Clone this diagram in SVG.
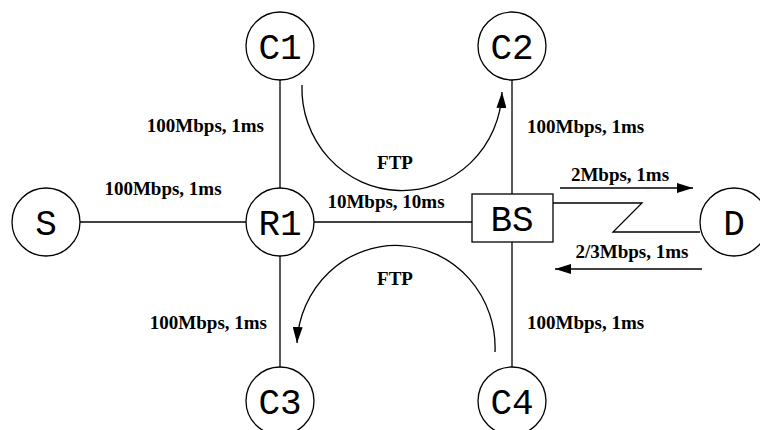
<svg xmlns="http://www.w3.org/2000/svg" width="760" height="430" viewBox="0 0 760 430">
<style>
.n{fill:#fff;stroke:#000;stroke-width:1.3}
.nl{font-family:"Liberation Mono","DejaVu Sans Mono",monospace;font-size:36px;text-anchor:middle;fill:#000}
.e{fill:none;stroke:#000;stroke-width:1.3}
.lb{font-family:"Liberation Serif","Times New Roman",serif;font-size:19px;font-weight:bold;fill:#000}
</style>
<defs>
<marker id="ah2" viewBox="0 0 10 10" refX="10" refY="5" markerWidth="16" markerHeight="10" markerUnits="userSpaceOnUse" orient="auto" preserveAspectRatio="none">
<path d="M0,0 L10,5 L0,10 z" fill="#000"/>
</marker>
</defs>
<g id="connectors">
<line class="e" x1="80" y1="222" x2="246" y2="222"/>
<line class="e" x1="314" y1="222" x2="472" y2="222"/>
<line class="e" x1="280" y1="80" x2="280" y2="188"/>
<line class="e" x1="280" y1="256" x2="280" y2="367"/>
<line class="e" x1="512" y1="80" x2="512" y2="194"/>
<line class="e" x1="512" y1="242" x2="512" y2="367"/>
<polyline class="e" points="553,203 642,203 613,232 700,232"/>
<line class="e" x1="560" y1="188" x2="693" y2="188" marker-end="url(#ah2)"/>
<line class="e" x1="702" y1="269" x2="555" y2="269" marker-end="url(#ah2)"/>
<path class="e" d="M302,85 A100,102 0 0 0 502,92" marker-end="url(#ah2)"/>
<path class="e" d="M495,352 A99,102 0 0 0 297,343" marker-end="url(#ah2)"/>
</g>
<g id="labels">
<text class="lb" x="264" y="132" text-anchor="end">100Mbps, 1ms</text>
<text class="lb" x="527" y="133">100Mbps, 1ms</text>
<text class="lb" x="163" y="195" text-anchor="middle">100Mbps, 1ms</text>
<text class="lb" x="386" y="208" text-anchor="middle">10Mbps, 10ms</text>
<text class="lb" x="395" y="169" text-anchor="middle">FTP</text>
<text class="lb" x="395" y="285" text-anchor="middle">FTP</text>
<text class="lb" x="620" y="181" text-anchor="middle">2Mbps, 1ms</text>
<text class="lb" x="632" y="258" text-anchor="middle">2/3Mbps, 1ms</text>
<text class="lb" x="267" y="329" text-anchor="end">100Mbps, 1ms</text>
<text class="lb" x="527" y="329">100Mbps, 1ms</text>
</g>
<g id="S"><circle class="n" cx="46" cy="222" r="34"/><text class="nl" x="46" y="235">S</text></g>
<g id="R1"><circle class="n" cx="280" cy="222" r="34"/><text class="nl" x="280" y="235">R1</text></g>
<g id="C1"><circle class="n" cx="280" cy="46" r="34"/><text class="nl" x="280" y="59">C1</text></g>
<g id="C2"><circle class="n" cx="512" cy="46" r="34"/><text class="nl" x="512" y="59">C2</text></g>
<g id="C3"><circle class="n" cx="280" cy="401" r="34"/><text class="nl" x="280" y="414">C3</text></g>
<g id="C4"><circle class="n" cx="512" cy="401" r="34"/><text class="nl" x="512" y="414">C4</text></g>
<g id="BS"><rect class="n" x="472" y="194" width="81" height="48"/><text class="nl" x="512" y="231">BS</text></g>
<g id="D"><circle class="n" cx="734" cy="222" r="34"/><text class="nl" x="734" y="235">D</text></g>
</svg>
